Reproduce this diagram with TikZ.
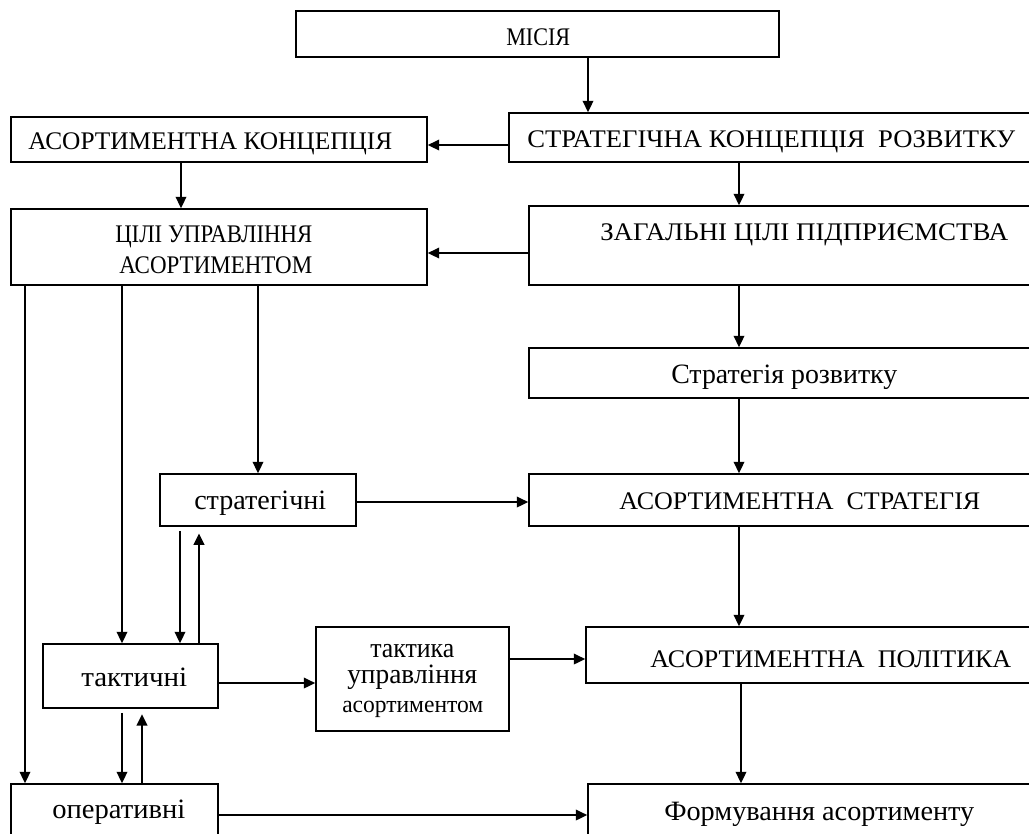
\documentclass[tikz,border=0pt]{standalone}
\usepackage{fontspec}
\setmainfont{Liberation Serif}
\usetikzlibrary{arrows.meta,fit}
\newlength\pxu \setlength\pxu{0.75pt}
\newcommand\fw[2]{\resizebox{#1\pxu}{\height}{#2}}
\begin{document}
\begin{tikzpicture}[x=0.75pt,y=-0.75pt,
  box/.style={draw, line width=1.3pt, inner sep=0pt},
  lbl/.style={inner sep=0pt, anchor=base west},
  captxt/.style={lbl, font=\fontsize{19}{21}\selectfont},
  lowtxt/.style={lbl, font=\fontsize{21}{23}\selectfont},
  smalltxt/.style={lbl, font=\fontsize{18}{20}\selectfont},
  arr/.style={line width=1.3pt, -{Triangle[length=8.5pt,width=8pt]}}]
\useasboundingbox (0,0) rectangle (1029,833);
\fill[white] (0,0) rectangle (1029,833);
\clip (0,0) rectangle (1029,833);
% boxes
\node[box, fit={(296,11)(779,57)}] (mis) {};
\node[box, fit={(509,113)(1045,162)}] (stc) {};
\node[box, fit={(11,117)(427,162)}] (akc) {};
\node[box, fit={(11,209)(427,285)}] (cil) {};
\node[box, fit={(529,206)(1045,285)}] (zag) {};
\node[box, fit={(529,348)(1045,398)}] (srz) {};
\node[box, fit={(529,474)(1045,526)}] (ast) {};
\node[box, fit={(160,474)(356,526)}] (str) {};
\node[box, fit={(43,644)(218,708)}] (tak) {};
\node[box, fit={(316,627)(509,731)}] (tum) {};
\node[box, fit={(586,627)(1045,683)}] (pol) {};
\node[box, fit={(11,784)(218,850)}] (ope) {};
\node[box, fit={(588,784)(1045,850)}] (frm) {};
% texts
\node[captxt] (tmis) at (506,45) {\fw{64}{МІСІЯ}};
\node[captxt] (takc) at (28,149) {\fw{364}{АСОРТИМЕНТНА КОНЦЕПЦІЯ}};
\node[captxt] (tstc) at (527,147) {\fw{488}{СТРАТЕГІЧНА КОНЦЕПЦІЯ\ \ РОЗВИТКУ}};
\node[captxt] (tcil1) at (115,242) {\fw{197}{ЦІЛІ УПРАВЛІННЯ}};
\node[captxt] (tcil2) at (119,273) {\fw{193}{АСОРТИМЕНТОМ}};
\node[captxt] (tzag) at (600,240) {\fw{408}{ЗАГАЛЬНІ ЦІЛІ ПІДПРИЄМСТВА}};
\node[lowtxt] (tsrz) at (671,383) {\fw{226}{Стратегія розвитку}};
\node[captxt] (tast) at (619,509) {\fw{361}{АСОРТИМЕНТНА\ \ СТРАТЕГІЯ}};
\node[lowtxt] (tstr) at (194,509) {\fw{132}{стратегічні}};
\node[lowtxt] (ttak) at (81,686) {\fw{106}{тактичні}};
\node[lowtxt] (ttum1) at (370,657) {\fw{84}{тактика}};
\node[lowtxt] (ttum2) at (347,683) {\fw{130}{управління}};
\node[smalltxt] (ttum3) at (342,712) {\fw{141}{асортиментом}};
\node[captxt] (tpol) at (650,667) {\fw{361}{АСОРТИМЕНТНА\ \ ПОЛІТИКА}};
\node[lowtxt] (tope) at (52,818) {\fw{133}{оперативні}};
\node[lowtxt] (tfrm) at (664,820) {\fw{310}{Формування асортименту}};
% connectors
\draw[arr] (mis.south -| 588,0) -- (stc.north -| 588,0);
\draw[arr] (stc.west |- 0,145) -- (akc.east |- 0,145);
\draw[arr] (akc.south -| 181,0) -- (cil.north -| 181,0);
\draw[arr] (stc.south -| 739,0) -- (zag.north -| 739,0);
\draw[arr] (zag.west |- 0,253) -- (cil.east |- 0,253);
\draw[arr] (cil.south -| 25,0) -- (ope.north -| 25,0);
\draw[arr] (cil.south -| 122,0) -- (tak.north -| 122,0);
\draw[arr] (cil.south -| 258,0) -- (str.north -| 258,0);
\draw[arr] (zag.south -| 739,0) -- (srz.north -| 739,0);
\draw[arr] (srz.south -| 739,0) -- (ast.north -| 739,0);
\draw[arr] (str.east |- 0,502) -- (ast.west |- 0,502);
\draw[arr, shorten <=3pt] (str.south -| 180,0) -- (tak.north -| 180,0);
\draw[arr, shorten >=5pt] (tak.north -| 199,0) -- (str.south -| 199,0);
\draw[arr] (tak.east |- 0,683) -- (tum.west |- 0,683);
\draw[arr] (tum.east |- 0,659) -- (pol.west |- 0,659);
\draw[arr] (ast.south -| 739,0) -- (pol.north -| 739,0);
\draw[arr] (pol.south -| 741,0) -- (frm.north -| 741,0);
\draw[arr, shorten <=3pt] (tak.south -| 122,0) -- (ope.north -| 122,0);
\draw[arr, shorten >=4pt] (ope.north -| 142,0) -- (tak.south -| 142,0);
\draw[arr] (ope.east |- 0,815) -- (frm.west |- 0,815);
\end{tikzpicture}
\end{document}
